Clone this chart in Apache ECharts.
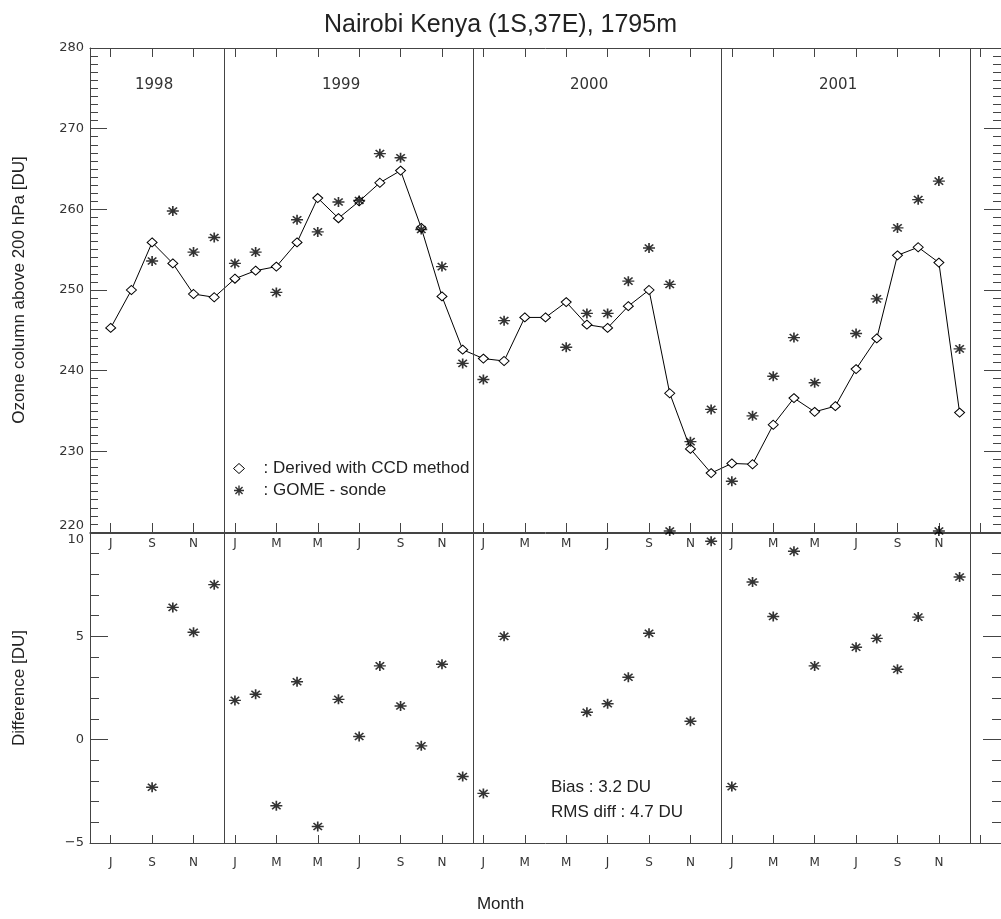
<!DOCTYPE html>
<html>
<head>
<meta charset="utf-8">
<script src="https://cdn.jsdelivr.net/npm/echarts@6/dist/echarts.min.js"></script>
<style>
html,body{margin:0;padding:0;background:#ffffff;}
#chart{width:1001px;height:919px;}
</style>
</head>
<body>
<div id="chart"></div>
<script>
// ---- Data (monthly, July 1998 .. December 2001) ----
const months = [
  '1998-07','1998-08','1998-09','1998-10','1998-11','1998-12',
  '1999-01','1999-02','1999-03','1999-04','1999-05','1999-06','1999-07','1999-08','1999-09','1999-10','1999-11','1999-12',
  '2000-01','2000-02','2000-03','2000-04','2000-05','2000-06','2000-07','2000-08','2000-09','2000-10','2000-11','2000-12',
  '2001-01','2001-02','2001-03','2001-04','2001-05','2001-06','2001-07','2001-08','2001-09','2001-10','2001-11','2001-12'
];
// Ozone column above 200 hPa [DU], derived with CCD method
const ccd = [
  245.3, 250.0, 255.9, 253.3, 249.5, 249.1,
  251.4, 252.4, 252.9, 255.9, 261.4, 258.9, 261.0, 263.3, 264.8, 257.7, 249.2, 242.6,
  241.5, 241.2, 246.6, 246.6, 248.5, 245.7, 245.3, 248.0, 250.0, 237.2, 230.3, 227.3,
  228.5, 228.4, 233.3, 236.6, 234.9, 235.6, 240.2, 244.0, 254.3, 255.3, 253.4, 234.8
];
// GOME - sonde
const gome = [
  null, null, 253.6, 259.8, 254.7, 256.5,
  253.3, 254.7, 249.7, 258.7, 257.2, 260.9, 261.1, 266.9, 266.4, 257.5, 252.9, 240.9,
  238.9, 246.2, null, null, 242.9, 247.1, 247.1, 251.1, 255.2, 250.7, 231.2, 235.2,
  226.3, 234.4, 239.3, 244.1, 238.5, null, 244.6, 248.9, 257.7, 261.2, 263.5, 242.7
];
// Difference [DU]
const diff = [
  null, null, -2.3, 6.4, 5.2, 7.5,
  1.9, 2.2, -3.2, 2.8, -4.2, 1.95, 0.15, 3.57, 1.63, -0.3, 3.65, -1.78,
  -2.6, 5.0, null, null, null, 1.33, 1.74, 3.02, 5.15, 10.1, 0.89, 9.6,
  -2.27, 7.63, 5.96, 9.12, 3.57, null, 4.47, 4.9, 3.41, 5.93, 10.1, 7.87
];
const years = ['1998', '1999', '2000', '2001'];
const monthLetters = ['J','F','M','A','M','J','J','A','S','O','N','D'];
const titleText = 'Nairobi Kenya (1S,37E), 1795m';
const statsText = ['Bias : 3.2 DU', 'RMS diff : 4.7 DU'];

// ---- helpers ----
// month position on the axis: months counted from January 1998 = 0
function monthPos(s) {
  const p = s.split('-');
  return (parseInt(p[0], 10) - 1998) * 12 + (parseInt(p[1], 10) - 1);
}
function pairs(vals) {
  const out = [];
  vals.forEach(function (v, i) { if (v !== null) out.push([monthPos(months[i]), v]); });
  return out;
}
const xMin = 5, xMax = 49;            // June 1998 .. February 2002
const tickVals = [], labelVals = [];
for (let m = 6; m <= 48; m += 2) tickVals.push(m);
for (let m = 6; m <= 46; m += 2) labelVals.push(m);
const yearBounds = [12, 24, 36, 48].map(function (v) { return { xAxis: v - 0.5 }; });

const star = 'path://M0,8.6L20,8.6L20,11.4L0,11.4Z M8.6,0L11.4,0L11.4,20L8.6,20Z M1.9,3.9L3.9,1.9L18.1,16.1L16.1,18.1Z M16.1,1.9L18.1,3.9L3.9,18.1L1.9,16.1Z';

const frame = '#444';
const txt = '#333';
const xTickFont = { fontFamily: 'DejaVu Sans', fontSize: 12, color: txt };
const yTickFont = { fontFamily: 'DejaVu Sans', fontSize: 13, color: txt };

function xAxisDef(grid, pos, showLabel, tickLen, showTick, margin) {
  return {
    type: 'value', gridIndex: grid, position: pos, min: xMin, max: xMax,
    axisLine: { show: true, onZero: false, lineStyle: { color: frame, width: 1 } },
    axisTick: { show: showTick, inside: true, length: tickLen, customValues: tickVals, lineStyle: { color: frame } },
    axisLabel: Object.assign({
      show: showLabel, margin: margin, customValues: labelVals,
      formatter: function (v) { return monthLetters[((Math.round(v) % 12) + 12) % 12]; }
    }, xTickFont),
    splitLine: { show: false }
  };
}
function yAxisDef(grid, pos, min, max, interval, minorSplit, majorLen, minorLen, showLabel, name, extraLabel) {
  const a = {
    type: 'value', gridIndex: grid, position: pos, min: min, max: max, interval: interval,
    axisLine: { show: true, onZero: false, lineStyle: { color: frame, width: 1 } },
    axisTick: { show: true, inside: true, length: majorLen, lineStyle: { color: frame } },
    minorTick: { show: true, splitNumber: minorSplit, length: minorLen, lineStyle: { color: frame } },
    axisLabel: Object.assign({ show: showLabel, margin: 6, formatter: function (v) { return v < 0 ? '\u2212' + Math.abs(v) : String(v); } }, yTickFont, extraLabel || {}),
    splitLine: { show: false }
  };
  if (name) {
    a.name = name;
    a.nameLocation = 'middle';
    a.nameGap = 62;
    a.nameTextStyle = { fontFamily: 'Liberation Sans', fontSize: 17, color: '#222' };
  }
  return a;
}

const chart = echarts.init(document.getElementById('chart'), null, { renderer: 'canvas' });
const option = {
  backgroundColor: '#ffffff',
  animation: false,
  title: {
    text: titleText, left: 'center', top: 8,
    textStyle: { fontFamily: 'Liberation Sans', fontSize: 25, fontWeight: 'normal', color: '#222' }
  },
  grid: [
    { left: 90, top: 48, width: 914, height: 484 },
    { left: 90, top: 533, width: 914, height: 310 }
  ],
  xAxis: [
    xAxisDef(0, 'bottom', true, 9, true, 6),
    xAxisDef(0, 'top', false, 9, true, 6),
    xAxisDef(1, 'bottom', true, 8, true, 14),
    xAxisDef(1, 'top', false, 8, false, 6)
  ],
  yAxis: [
    yAxisDef(0, 'left', 220, 280, 10, 10, 17, 8, true, 'Ozone column above 200 hPa [DU]', { verticalAlignMinLabel: 'bottom' }),
    yAxisDef(0, 'right', 220, 280, 10, 10, 17, 8, false, null),
    yAxisDef(1, 'left', -5, 10, 5, 5, 18, 9, true, 'Difference [DU]', { verticalAlignMaxLabel: 'top' }),
    yAxisDef(1, 'right', -5, 10, 5, 5, 18, 9, false, null)
  ],
  legend: {
    orient: 'vertical', left: 228, top: 455, itemWidth: 11, itemHeight: 10, itemGap: 5,
    selectedMode: false,
    data: [
      { name: 'Derived with CCD method', icon: 'diamond', itemStyle: { color: '#fff', borderColor: '#000', borderWidth: 1 } },
      { name: 'GOME - sonde', icon: star, itemStyle: { color: '#000', borderWidth: 0 } }
    ],
    formatter: function (n) { return '{p|}: ' + n; },
    textStyle: { fontFamily: 'Liberation Sans', fontSize: 17, color: '#222', rich: { p: { width: 14 } } }
  },
  series: [
    {
      name: 'Derived with CCD method', type: 'line', xAxisIndex: 0, yAxisIndex: 0,
      data: pairs(ccd), symbol: 'diamond', symbolSize: [10, 9], showAllSymbol: true,
      lineStyle: { color: '#000', width: 1 },
      itemStyle: { color: '#fff', borderColor: '#000', borderWidth: 1 },
      z: 3,
      markLine: {
        silent: true, symbol: 'none', label: { show: false },
        lineStyle: { color: frame, type: 'solid', width: 1 },
        data: yearBounds
      }
    },
    {
      name: 'GOME - sonde', type: 'scatter', xAxisIndex: 0, yAxisIndex: 0,
      data: pairs(gome), symbol: star, symbolSize: [12, 10],
      itemStyle: { color: '#000' }, z: 4
    },
    {
      name: 'Difference', type: 'scatter', xAxisIndex: 2, yAxisIndex: 2,
      data: pairs(diff), symbol: star, symbolSize: [12, 10], clip: false,
      itemStyle: { color: '#000' }, z: 4,
      markLine: {
        silent: true, symbol: 'none', label: { show: false },
        lineStyle: { color: frame, type: 'solid', width: 1 },
        data: yearBounds
      }
    }
  ],
  graphic: [
    { type: 'text', left: 135, top: 78, style: { text: years[0], font: '15px "DejaVu Sans"', fill: txt } },
    { type: 'text', left: 322, top: 78, style: { text: years[1], font: '15px "DejaVu Sans"', fill: txt } },
    { type: 'text', left: 570, top: 78, style: { text: years[2], font: '15px "DejaVu Sans"', fill: txt } },
    { type: 'text', left: 819, top: 78, style: { text: years[3], font: '15px "DejaVu Sans"', fill: txt } },
    { type: 'text', left: 551, top: 779, style: { text: statsText[0], font: '17px "Liberation Sans"', fill: '#222' } },
    { type: 'text', left: 551, top: 804, style: { text: statsText[1], font: '17px "Liberation Sans"', fill: '#222' } },
    { type: 'text', left: 'center', top: 896, style: { text: 'Month', font: '17px "Liberation Sans"', fill: '#222' } }
  ]
};
chart.setOption(option);
</script>
</body>
</html>
